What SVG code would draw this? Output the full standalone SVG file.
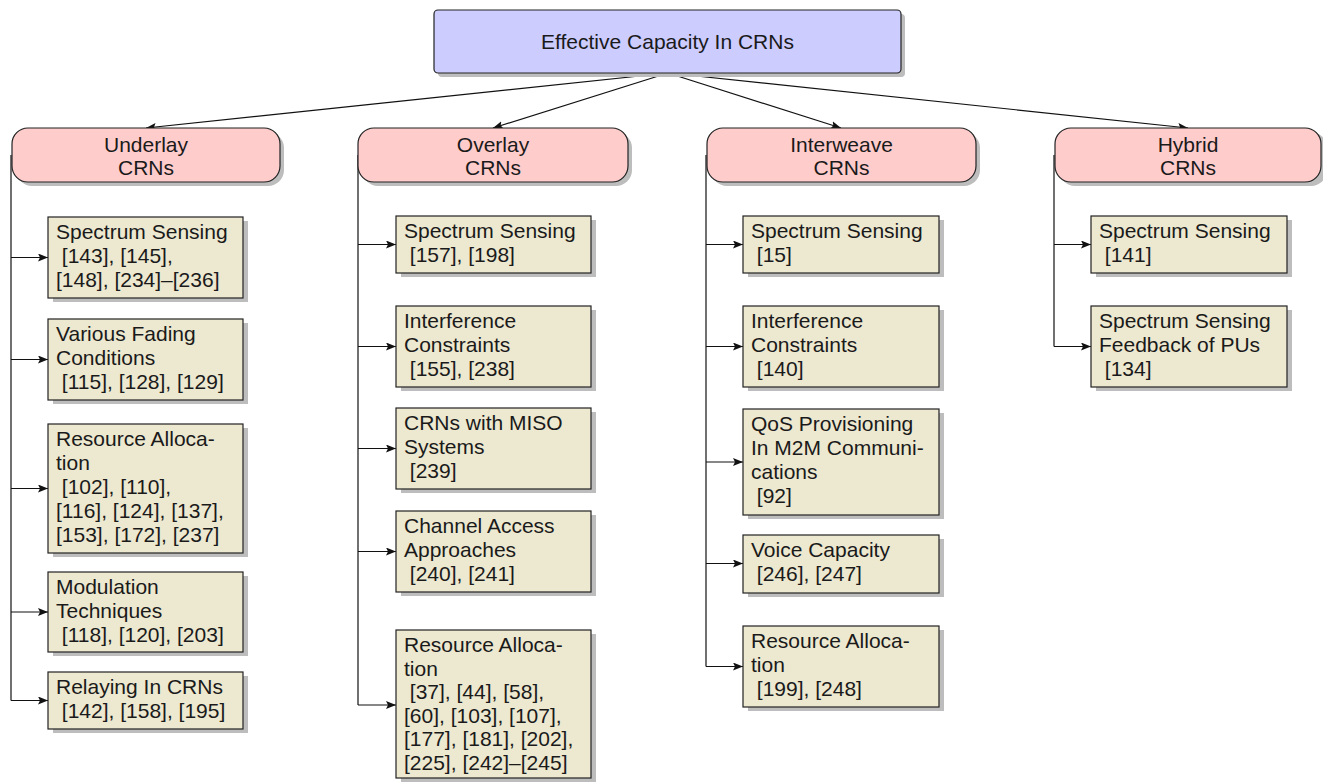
<svg xmlns="http://www.w3.org/2000/svg" width="1323" height="783" viewBox="0 0 1323 783">
<defs>
<marker id="ah" viewBox="0 0 10 8" refX="10" refY="4" markerWidth="10" markerHeight="8" markerUnits="userSpaceOnUse" orient="auto">
<path d="M0,0 L10,4 L0,8 L2,4 Z" fill="#111"/>
</marker>
<style>
.t{font-family:"Liberation Sans",Arial,sans-serif;font-size:21px;fill:#1a1a1a;}
.c{text-anchor:middle;}
.sh{fill:#bdbdbd;}
.root{fill:#ccccff;stroke:#222;stroke-width:1.2;}
.cat{fill:#ffcccc;stroke:#222;stroke-width:1.2;}
.leaf{fill:#ede8d0;stroke:#222;stroke-width:1.2;}
.ln{fill:none;stroke:#111;stroke-width:1.2;}
.ar{fill:none;stroke:#111;stroke-width:1.2;marker-end:url(#ah);}
</style>
</defs>
<rect width="1323" height="783" fill="#fff"/>

<g id="connectors">
<path class="ar" d="M668,73 L146,128"/>
<path class="ar" d="M668,73 L493,128"/>
<path class="ar" d="M668,73 L841,128"/>
<path class="ar" d="M668,73 L1188,128"/>
<path class="ln" d="M11,155 V700.5"/>
<path class="ar" d="M11,257.5 H48"/>
<path class="ar" d="M11,359.5 H48"/>
<path class="ar" d="M11,488.5 H48"/>
<path class="ar" d="M11,612 H48"/>
<path class="ar" d="M11,700.5 H48"/>
<path class="ln" d="M358,155 V705"/>
<path class="ar" d="M358,244.5 H396"/>
<path class="ar" d="M358,346.5 H396"/>
<path class="ar" d="M358,448.5 H396"/>
<path class="ar" d="M358,551.5 H396"/>
<path class="ar" d="M358,705 H396"/>
<path class="ln" d="M706,155 V666.5"/>
<path class="ar" d="M706,244.5 H743"/>
<path class="ar" d="M706,346.5 H743"/>
<path class="ar" d="M706,462 H743"/>
<path class="ar" d="M706,563.5 H743"/>
<path class="ar" d="M706,666.5 H743"/>
<path class="ln" d="M1054,155 V346.5"/>
<path class="ar" d="M1054,244.5 H1091"/>
<path class="ar" d="M1054,346.5 H1091"/>
</g>

<g id="root">
<rect class="sh" x="438" y="14" width="467" height="63" rx="4"/>
<rect class="root" x="434" y="10" width="467" height="63" rx="4"/>
<text class="t c" x="667.5" y="49">Effective Capacity In CRNs</text>
</g>

<g id="underlay">
<rect class="sh" x="16" y="132" width="268" height="54" rx="16"/>
<rect class="cat" x="12" y="128" width="268" height="54" rx="16"/>
<text class="t c" x="146"><tspan x="146" y="152">Underlay</tspan><tspan x="146" y="175">CRNs</tspan></text>
</g>
<g id="overlay">
<rect class="sh" x="362" y="132" width="270" height="54" rx="16"/>
<rect class="cat" x="358" y="128" width="270" height="54" rx="16"/>
<text class="t c"><tspan x="493" y="152">Overlay</tspan><tspan x="493" y="175">CRNs</tspan></text>
</g>
<g id="interweave">
<rect class="sh" x="711" y="132" width="269" height="54" rx="16"/>
<rect class="cat" x="707" y="128" width="269" height="54" rx="16"/>
<text class="t c"><tspan x="841.5" y="152">Interweave</tspan><tspan x="841.5" y="175">CRNs</tspan></text>
</g>
<g id="hybrid">
<rect class="sh" x="1059" y="132" width="268" height="54" rx="16"/>
<rect class="cat" x="1055" y="128" width="266" height="54" rx="16"/>
<text class="t c"><tspan x="1188" y="152">Hybrid</tspan><tspan x="1188" y="175">CRNs</tspan></text>
</g>

<g id="u1">
<rect class="sh" x="53" y="221" width="195" height="81"/>
<rect class="leaf" x="48" y="217" width="195" height="81"/>
<text class="t" xml:space="preserve"><tspan x="56" y="239">Spectrum Sensing</tspan><tspan x="56" y="263"> [143], [145],</tspan><tspan x="56" y="287">[148], [234]–[236]</tspan></text>
</g>
<g id="u2">
<rect class="sh" x="53" y="323" width="195" height="81"/>
<rect class="leaf" x="48" y="319" width="195" height="81"/>
<text class="t" xml:space="preserve"><tspan x="56" y="341">Various Fading</tspan><tspan x="56" y="365">Conditions</tspan><tspan x="56" y="389"> [115], [128], [129]</tspan></text>
</g>
<g id="u3">
<rect class="sh" x="53" y="428" width="195" height="129"/>
<rect class="leaf" x="48" y="424" width="195" height="129"/>
<text class="t" xml:space="preserve"><tspan x="56" y="446">Resource Alloca-</tspan><tspan x="56" y="470">tion</tspan><tspan x="56" y="494"> [102], [110],</tspan><tspan x="56" y="518">[116], [124], [137],</tspan><tspan x="56" y="542">[153], [172], [237]</tspan></text>
</g>
<g id="u4">
<rect class="sh" x="53" y="576" width="195" height="80"/>
<rect class="leaf" x="48" y="572" width="195" height="80"/>
<text class="t" xml:space="preserve"><tspan x="56" y="594">Modulation</tspan><tspan x="56" y="618">Techniques</tspan><tspan x="56" y="642"> [118], [120], [203]</tspan></text>
</g>
<g id="u5">
<rect class="sh" x="53" y="676" width="195" height="57"/>
<rect class="leaf" x="48" y="672" width="195" height="57"/>
<text class="t" xml:space="preserve"><tspan x="56" y="694">Relaying In CRNs</tspan><tspan x="56" y="718"> [142], [158], [195]</tspan></text>
</g>

<g id="o1">
<rect class="sh" x="401" y="220" width="195" height="57"/>
<rect class="leaf" x="396" y="216" width="195" height="57"/>
<text class="t" xml:space="preserve"><tspan x="404" y="238">Spectrum Sensing</tspan><tspan x="404" y="262"> [157], [198]</tspan></text>
</g>
<g id="o2">
<rect class="sh" x="401" y="310" width="195" height="81"/>
<rect class="leaf" x="396" y="306" width="195" height="81"/>
<text class="t" xml:space="preserve"><tspan x="404" y="328">Interference</tspan><tspan x="404" y="352">Constraints</tspan><tspan x="404" y="376"> [155], [238]</tspan></text>
</g>
<g id="o3">
<rect class="sh" x="401" y="412" width="195" height="81"/>
<rect class="leaf" x="396" y="408" width="195" height="81"/>
<text class="t" xml:space="preserve"><tspan x="404" y="430">CRNs with MISO</tspan><tspan x="404" y="454">Systems</tspan><tspan x="404" y="478"> [239]</tspan></text>
</g>
<g id="o4">
<rect class="sh" x="401" y="515" width="195" height="81"/>
<rect class="leaf" x="396" y="511" width="195" height="81"/>
<text class="t" xml:space="preserve"><tspan x="404" y="533">Channel Access</tspan><tspan x="404" y="557">Approaches</tspan><tspan x="404" y="581"> [240], [241]</tspan></text>
</g>
<g id="o5">
<rect class="sh" x="401" y="634" width="195" height="148"/>
<rect class="leaf" x="396" y="630" width="195" height="148"/>
<text class="t" xml:space="preserve"><tspan x="404" y="652">Resource Alloca-</tspan><tspan x="404" y="675.5">tion</tspan><tspan x="404" y="699"> [37], [44], [58],</tspan><tspan x="404" y="722.5">[60], [103], [107],</tspan><tspan x="404" y="746">[177], [181], [202],</tspan><tspan x="404" y="769.5">[225], [242]–[245]</tspan></text>
</g>

<g id="i1">
<rect class="sh" x="748" y="220" width="196" height="57"/>
<rect class="leaf" x="743" y="216" width="196" height="57"/>
<text class="t" xml:space="preserve"><tspan x="751" y="238">Spectrum Sensing</tspan><tspan x="751" y="262"> [15]</tspan></text>
</g>
<g id="i2">
<rect class="sh" x="748" y="310" width="196" height="81"/>
<rect class="leaf" x="743" y="306" width="196" height="81"/>
<text class="t" xml:space="preserve"><tspan x="751" y="328">Interference</tspan><tspan x="751" y="352">Constraints</tspan><tspan x="751" y="376"> [140]</tspan></text>
</g>
<g id="i3">
<rect class="sh" x="748" y="413" width="196" height="106"/>
<rect class="leaf" x="743" y="409" width="196" height="106"/>
<text class="t" xml:space="preserve"><tspan x="751" y="431">QoS Provisioning</tspan><tspan x="751" y="455">In M2M Communi-</tspan><tspan x="751" y="479">cations</tspan><tspan x="751" y="503"> [92]</tspan></text>
</g>
<g id="i4">
<rect class="sh" x="748" y="539" width="196" height="58"/>
<rect class="leaf" x="743" y="535" width="196" height="58"/>
<text class="t" xml:space="preserve"><tspan x="751" y="557">Voice Capacity</tspan><tspan x="751" y="581"> [246], [247]</tspan></text>
</g>
<g id="i5">
<rect class="sh" x="748" y="630" width="196" height="81"/>
<rect class="leaf" x="743" y="626" width="196" height="81"/>
<text class="t" xml:space="preserve"><tspan x="751" y="648">Resource Alloca-</tspan><tspan x="751" y="672">tion</tspan><tspan x="751" y="696"> [199], [248]</tspan></text>
</g>

<g id="h1">
<rect class="sh" x="1096" y="220" width="196" height="57"/>
<rect class="leaf" x="1091" y="216" width="196" height="57"/>
<text class="t" xml:space="preserve"><tspan x="1099" y="238">Spectrum Sensing</tspan><tspan x="1099" y="262"> [141]</tspan></text>
</g>
<g id="h2">
<rect class="sh" x="1096" y="310" width="196" height="81"/>
<rect class="leaf" x="1091" y="306" width="196" height="81"/>
<text class="t" xml:space="preserve"><tspan x="1099" y="328">Spectrum Sensing</tspan><tspan x="1099" y="352">Feedback of PUs</tspan><tspan x="1099" y="376"> [134]</tspan></text>
</g>
</svg>
